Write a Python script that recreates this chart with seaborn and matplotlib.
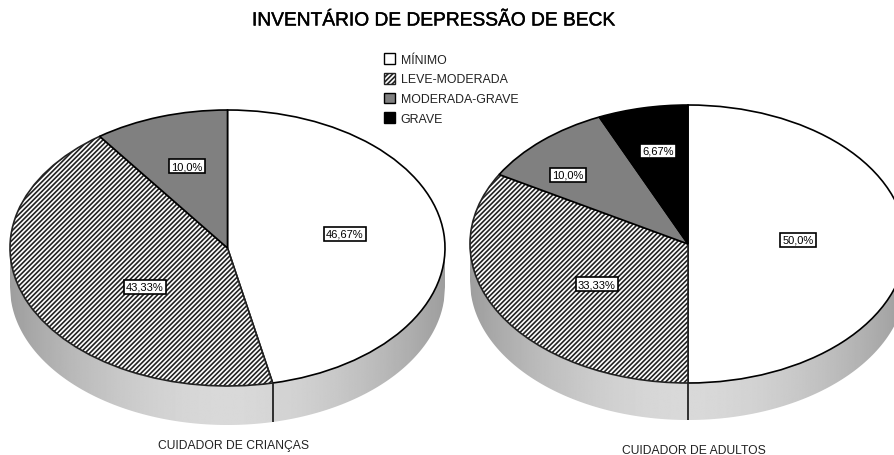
import numpy as np
import matplotlib
matplotlib.use("Agg")
import matplotlib.pyplot as plt
import matplotlib.patheffects as pe
from matplotlib.patches import Polygon
import seaborn as sns

sns.set_theme(style="white")
plt.rcParams['font.family'] = ['Liberation Sans', 'DejaVu Sans']
plt.rcParams['hatch.linewidth'] = 1.2

categories = ["MÍNIMO", "LEVE-MODERADA", "MODERADA-GRAVE", "GRAVE"]
criancas = [46.67, 43.33, 10.0]
adultos = [50.0, 33.33, 10.0, 6.67]
criancas_labels = ["46,67%", "43,33%", "10,0%"]
adultos_labels = ["50,0%", "33,33%", "10,0%", "6,67%"]

W, H = 894, 456
colors = ["white", "white", "#808080", "black"]
hatches = [None, "///////", None, None]


def draw_pie(values, labels, label_pos, cx, cy, a, b, depth):
    # axes spans the ellipse plus the wall, data +-1 is the pie radius
    ax = fig.add_axes([(cx - a) / W, (H - cy - b - depth) / H, 2 * a / W, (2 * b + depth) / H])
    wedges, _ = ax.pie(values, colors=colors, startangle=90, counterclock=False,
                       radius=1, wedgeprops=dict(edgecolor="black", linewidth=1.2, clip_on=False))
    for w, h in zip(wedges, hatches):
        if h:
            w.set_hatch(h)
            w.set_edgecolor("#222222")

    # side wall of the disc, lighter in the middle
    d = depth / b
    x = np.linspace(-1, 1, 400)
    low = -np.sqrt(1 - x ** 2)
    shade = 0.62 + 0.23 * (1 - np.abs(x) ** 1.8)
    im = ax.imshow(shade[np.newaxis, :], extent=(-1, 1, -1 - d, 0), cmap="gray", vmin=0, vmax=1,
                   aspect="auto", zorder=0)
    im.set_clip_path(Polygon(np.r_[np.c_[x, low], np.c_[x[::-1], low[::-1] - d]],
                             transform=ax.transData))
    ax.set_aspect("auto")
    ax.set_xlim(-1, 1)
    ax.set_ylim(-1 - d, 1)
    ax.patch.set_alpha(0)

    # boundaries that fall on the front of the disc
    ang = np.radians(np.cumsum(values) / sum(values) * 360)
    for t in ang[:-1]:
        if np.cos(t) < 0:
            ax.plot([np.sin(t)] * 2, [np.cos(t), np.cos(t) - d], color="#222222",
                    linewidth=1.3, clip_on=False, solid_capstyle="butt")

    for s, (px, py) in zip(labels, label_pos):
        ax.text((px - cx) / a, (cy - py) / b, s, fontsize=8, color="black",
                ha="center", va="center", clip_on=False,
                bbox=dict(boxstyle="square,pad=0.2", fc="white", ec="black", lw=1.2))
    return wedges


fig = plt.figure(figsize=(W / 100, H / 100), dpi=100)

draw_pie(criancas, criancas_labels, [(345, 235), (145, 288), (187, 167)],
         227.5, 249, 217.5, 138, 39)
wedges = draw_pie(adultos, adultos_labels, [(798, 241), (597, 285), (568, 176), (658, 152)],
                  688, 245, 218, 139, 37)

fig.text(233 / W, 1 - 446 / H, "CUIDADOR DE CRIANÇAS", fontsize=8.7, color="#222222",
         ha="center", va="center")
fig.text(694 / W, 1 - 451 / H, "CUIDADOR DE ADULTOS", fontsize=8.7, color="#222222",
         ha="center", va="center")

title = fig.text(433 / W, 1 - 22 / H, "INVENTÁRIO DE DEPRESSÃO DE BECK", fontsize=13.8,
                 color="black", ha="center", va="center")
title.set_path_effects([pe.withStroke(linewidth=0.3, foreground="black")])

leg = fig.legend(wedges, categories, loc="upper left", bbox_to_anchor=(373 / W, 1 - 43 / H),
                 frameon=False, fontsize=8.9, handlelength=0.85, handleheight=0.95,
                 handletextpad=0.5, labelspacing=0.58, labelcolor="#222222")
for h in leg.legend_handles:
    h.set_linewidth(1.0)

fig.savefig("out.png", dpi=100)
